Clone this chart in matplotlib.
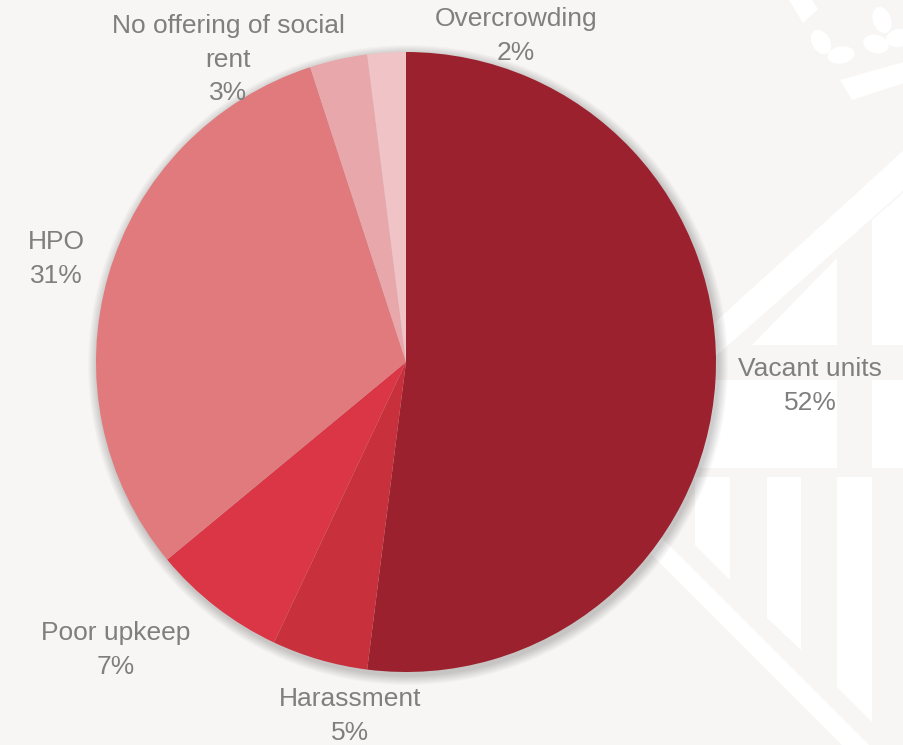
import textwrap

import matplotlib.pyplot as plt
from matplotlib.patches import Circle, Ellipse, Polygon

categories = ["Vacant units", "Harassment", "Poor upkeep", "HPO",
              "No offering of social rent", "Overcrowding"]
shares = [52, 5, 7, 31, 3, 2]
colours = ["#9b212e", "#c8303c", "#db3646", "#e07a7d", "#e8a7aa", "#f0c4c6"]

# label anchor points (pixels, y measured from the top)
label_xy = [(810, 386), (350, 716), (116, 650), (56, 259), (228, 60), (516, 36)]

W, H = 904, 745
BG = "#f7f6f4"
CENTER = (406, H - 362)
RADIUS = 310


def top(pts):
  # convert top-down pixel points into axes data coordinates
  return [(x, H - y) for x, y in pts]


def draw_emblem(ax):
  white = dict(facecolor="white", edgecolor="none", zorder=1)
  shapes = [
    [(690, 345), (904, 150), (904, 190), (700, 370)],
    [(752, 345), (837, 258), (837, 345)],
    [(872, 220), (904, 192), (904, 345), (872, 345)],
    [(700, 380), (837, 380), (837, 468), (700, 468)],
    [(872, 380), (904, 380), (904, 468), (872, 468)],
    [(695, 477), (730, 477), (730, 580), (695, 545)],
    [(767, 477), (801, 477), (801, 650), (767, 618)],
    [(837, 477), (872, 477), (872, 722), (837, 687)],
    [(630, 506), (910, 786), (910, 813), (630, 533)],
    [(840, 80), (904, 62), (904, 83), (852, 100)],
    [(789, 0), (812, 0), (818, 9), (803, 23)],
  ]
  for pts in shapes:
    ax.add_patch(Polygon(top(pts), closed=True, **white))
  leaves = [((821, 42), 18, 26, 30), ((841, 55), 27, 17, 10),
            ((882, 20), 18, 27, 20), ((876, 44), 26, 18, -15),
            ((899, 38), 26, 18, 10)]
  for (x, y), w, h, ang in leaves:
    ax.add_patch(Ellipse((x, H - y), w, h, angle=ang, **white))


fig = plt.figure(figsize=(W / 100, H / 100), dpi=100, facecolor=BG)
ax = fig.add_axes([0, 0, 1, 1])
ax.set_facecolor(BG)

draw_emblem(ax)

# soft drop shadow under the pie
for i in range(10):
  ax.add_patch(Circle((CENTER[0] + 2, CENTER[1] - 3), RADIUS + 10 - i,
                      facecolor="black", edgecolor="none", alpha=0.018, zorder=2))

wedges, _ = ax.pie(shares, colors=colours, startangle=90, counterclock=False,
                   center=CENTER, radius=RADIUS,
                   wedgeprops=dict(linewidth=0, zorder=3))
for w in wedges:
  w.set_zorder(3)

for name, val, (x, y) in zip(categories, shares, label_xy):
  text = textwrap.fill(name, 21) + f"\n{val}%"
  ax.text(x, H - y, text, ha="center", va="center", multialignment="center",
          fontsize=19, color="#7f7f7f", family="Liberation Sans",
          linespacing=1.5, zorder=4)

ax.set_xlim(0, W)
ax.set_ylim(0, H)
ax.set_aspect("equal")
ax.axis("off")

fig.savefig("out.png", dpi=100, facecolor=BG)
